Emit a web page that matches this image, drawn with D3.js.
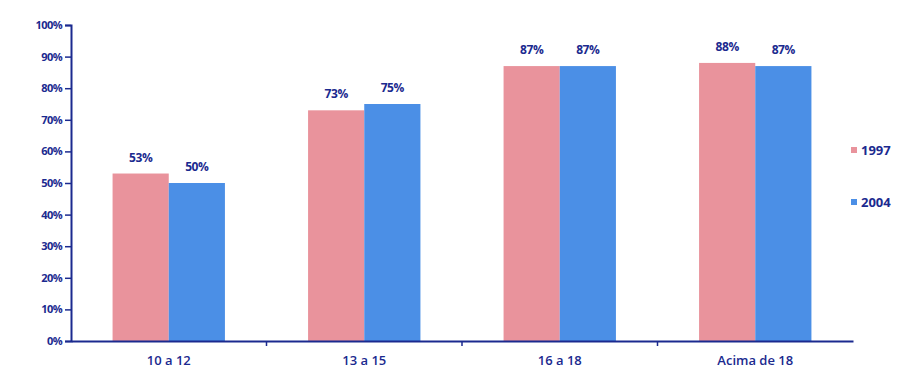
<!DOCTYPE html>
<html>
<head>
<meta charset="utf-8">
<script src="https://cdn.jsdelivr.net/npm/d3@7"></script>
<style>
  body { margin: 0; background: #fff; }
  svg { display: block; }
</style>
</head>
<body>
<svg id="chart" width="911" height="376"></svg>
<script>
const categories = ['10 a 12', '13 a 15', '16 a 18', 'Acima de 18'];
const seriesNames = ['1997', '2004'];
const values1997 = [53, 73, 87, 88];
const values2004 = [50, 75, 87, 87];
const yTicks = [0, 10, 20, 30, 40, 50, 60, 70, 80, 90, 100];

const colors = { '1997': '#e9939c', '2004': '#4b8fe6' };
const navy = '#1b2a8f';
const margin = { top: 25, right: 58, bottom: 35, left: 71 };
const width = 911, height = 376;

const svg = d3.select('#chart');

const x = d3.scaleBand()
    .domain(categories)
    .range([margin.left, width - margin.right])
    .paddingInner(0)
    .paddingOuter(0);

const sub = d3.scaleBand()
    .domain(seriesNames)
    .range([0, x.bandwidth()])
    .paddingOuter(0.74)
    .paddingInner(0);

const y = d3.scaleLinear()
    .domain([0, 100])
    .range([height - margin.bottom, margin.top]);

const data = categories.map((c, i) => ({
    cat: c,
    vals: [
        { key: '1997', v: values1997[i] },
        { key: '2004', v: values2004[i] }
    ]
}));

const groups = svg.append('g').selectAll('g')
    .data(data)
    .join('g')
    .attr('transform', d => `translate(${x(d.cat)},0)`);

groups.selectAll('rect')
    .data(d => d.vals)
    .join('rect')
    .attr('x', d => sub(d.key))
    .attr('y', d => y(d.v))
    .attr('width', sub.bandwidth())
    .attr('height', d => y(0) - y(d.v))
    .attr('fill', d => colors[d.key]);

groups.selectAll('text')
    .data(d => d.vals)
    .join('text')
    .attr('x', d => sub(d.key) + sub.bandwidth() / 2)
    .attr('y', d => y(d.v) - 12)
    .attr('text-anchor', 'middle')
    .style('font-family', 'Open Sans')
    .style('font-weight', 'bold')
    .style('font-size', '12px')
    .style('letter-spacing', '-0.4px')
    .attr('fill', navy)
    .text(d => d.v + '%');

// Y axis
const yAxis = svg.append('g')
    .attr('transform', `translate(${margin.left},0)`)
    .call(d3.axisLeft(y).tickValues(yTicks).tickSize(6).tickSizeOuter(6).tickFormat(d => d + '%'));
yAxis.select('.domain').attr('stroke', navy).attr('stroke-width', 2);
yAxis.selectAll('.tick line').attr('stroke', navy).attr('stroke-width', 1.5);
yAxis.selectAll('.tick text')
    .attr('x', -9)
    .attr('fill', navy)
    .style('font-family', 'Open Sans')
    .style('font-weight', 'bold')
    .style('font-size', '11px')
    .style('letter-spacing', '-0.6px');

// X axis
const xAxis = svg.append('g')
    .attr('transform', `translate(0,${y(0)})`)
    .call(d3.axisBottom(x).tickSize(0).tickSizeOuter(0));
xAxis.select('.domain').attr('stroke', navy).attr('stroke-width', 2);
xAxis.selectAll('.tick text')
    .attr('dy', '1.6em')
    .attr('fill', navy)
    .style('font-family', 'Open Sans')
    .style('font-weight', '600')
    .style('font-size', '13px');

// category boundary ticks
svg.append('g').selectAll('line')
    .data(categories.slice(1))
    .join('line')
    .attr('x1', d => x(d)).attr('x2', d => x(d))
    .attr('y1', y(0)).attr('y2', y(0) + 5)
    .attr('stroke', navy).attr('stroke-width', 1.5);

// Legend
const legend = svg.append('g').selectAll('g')
    .data(seriesNames)
    .join('g')
    .attr('transform', (d, i) => `translate(851,${150 + i * 52})`);
legend.append('rect')
    .attr('x', 0).attr('y', -3)
    .attr('width', 6).attr('height', 6)
    .attr('fill', d => colors[d]);
legend.append('text')
    .attr('x', 10).attr('y', 0)
    .attr('dy', '0.35em')
    .attr('fill', navy)
    .style('font-family', 'Open Sans')
    .style('font-weight', 'bold')
    .style('font-size', '13px')
    .text(d => d);
</script>
</body>
</html>
